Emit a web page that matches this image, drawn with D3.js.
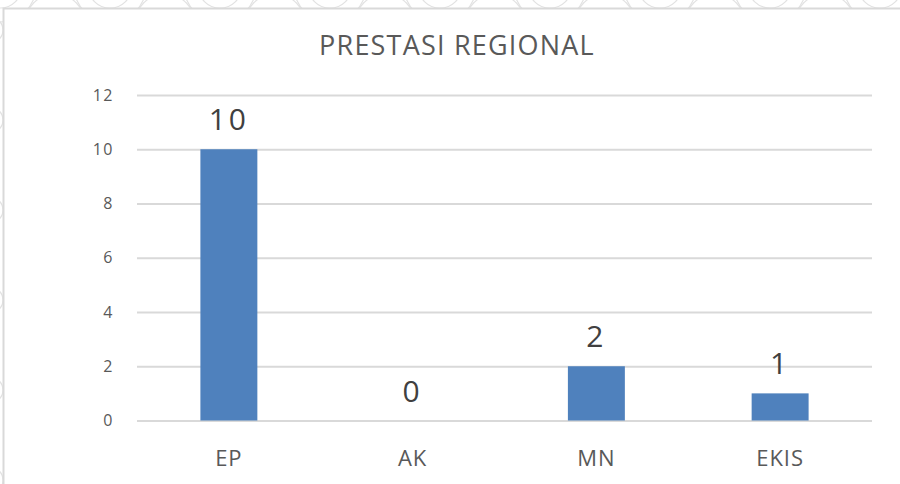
<!DOCTYPE html>
<html>
<head>
<meta charset="utf-8">
<script src="https://cdn.jsdelivr.net/npm/d3@7"></script>
<style>
  html, body { margin: 0; padding: 0; background: #fff; }
  svg { display: block; }
  text { font-family: "Open Sans", "Noto Sans", sans-serif; }
</style>
</head>
<body>
<svg id="chart" width="900" height="484"></svg>
<script>
const title = "PRESTASI REGIONAL";
const categories = ["EP", "AK", "MN", "EKIS"];
const values = [10, 0, 2, 1];
const yTicks = [0, 2, 4, 6, 8, 10, 12];

const svg = d3.select("#chart");
const W = 900, H = 484;

// faint decorative watermark outside chart frame
const wm = svg.append("g").attr("fill", "none").attr("stroke", "#e2e2e2").attr("stroke-width", 1.2);
d3.range(0, 960, 110).forEach((cx, i) => {
  [22, 36].forEach(r => {
    wm.append("circle").attr("cx", cx).attr("cy", -14).attr("r", r);
  });
  wm.append("circle").attr("cx", cx + 55).attr("cy", 24).attr("r", 30);
});
d3.range(30, 500, 90).forEach(cy => {
  wm.append("circle").attr("cx", -10).attr("cy", cy).attr("r", 13);
});

// chart frame (white box)
svg.append("rect")
  .attr("x", 3.5).attr("y", 8.5)
  .attr("width", W + 10).attr("height", H + 10)
  .attr("fill", "#fff").attr("stroke", "#d9d9d9").attr("stroke-width", 2);

const x = d3.scaleBand().domain(categories).range([137, 872]).padding(0);
const y = d3.scaleLinear().domain([0, 12]).range([420.5, 95]);

// gridlines via axis
const yAxis = d3.axisLeft(y).tickValues(yTicks).tickSize(-(872 - 137)).tickPadding(23).tickFormat(d3.format("d"));
const gy = svg.append("g").attr("transform", "translate(137,0)").call(yAxis);
gy.select(".domain").remove();
gy.selectAll(".tick line").attr("stroke", "#d9d9d9").attr("stroke-width", 2);
gy.selectAll(".tick text")
  .attr("fill", "#595959")
  .style("font-size", "16px")
  .style("letter-spacing", "1.5px")
  .style("font-family", "'Open Sans', sans-serif");

// bars
const barW = x.bandwidth() * 0.31;
svg.append("g").selectAll("rect").data(values).join("rect")
  .attr("x", (d, i) => x(categories[i]) + x.bandwidth() / 2 - barW / 2)
  .attr("y", d => y(d))
  .attr("width", barW)
  .attr("height", d => y(0) - y(d))
  .attr("fill", "#4f81bd");

// data labels
svg.append("g").selectAll("text").data(values).join("text")
  .attr("x", (d, i) => x(categories[i]) + x.bandwidth() / 2)
  .attr("y", d => y(d) - 19)
  .attr("text-anchor", "middle")
  .attr("fill", "#404040")
  .style("font-size", "30px")
  .style("letter-spacing", "3px")
  .text(d => d);

// x axis labels
const xAxis = d3.axisBottom(x).tickSize(0).tickPadding(30);
const gx = svg.append("g").attr("transform", `translate(0,${y(0)})`).call(xAxis);
gx.select(".domain").remove();
gx.selectAll(".tick text")
  .attr("fill", "#595959")
  .style("font-size", "22px")
  .style("letter-spacing", "1px")
  .style("font-family", "'Open Sans', sans-serif");

// title
svg.append("text")
  .attr("x", 457).attr("y", 55)
  .attr("text-anchor", "middle")
  .attr("fill", "#595959")
  .style("font-size", "27px")
  .style("letter-spacing", "1.2px")
  .text(title);
</script>
</body>
</html>
